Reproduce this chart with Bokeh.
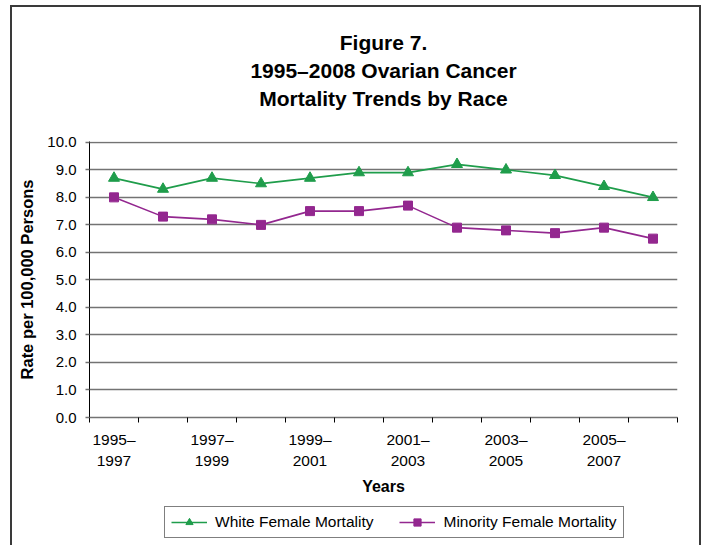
from bokeh.plotting import figure
from bokeh.layouts import column
from bokeh.models import (Range1d, FixedTicker, Legend, LegendItem, Title,
                          NumeralTickFormatter)
from bokeh.embed import file_html
from bokeh.resources import INLINE

# ---- data ----
periods = ["1995–1997", "1996–1998", "1997–1999", "1998–2000", "1999–2001", "2000–2002",
           "2001–2003", "2002–2004", "2003–2005", "2004–2006", "2005–2007", "2006–2008"]
white = [8.7, 8.3, 8.7, 8.5, 8.7, 8.9, 8.9, 9.2, 9.0, 8.8, 8.4, 8.0]
minority = [8.0, 7.3, 7.2, 7.0, 7.5, 7.5, 7.7, 6.9, 6.8, 6.7, 6.9, 6.5]
y_ticks = [0, 1, 2, 3, 4, 5, 6, 7, 8, 9, 10]
series_names = ["White Female Mortality", "Minority Female Mortality"]
title_lines = ["Figure 7.", "1995–2008 Ovarian Cancer", "Mortality Trends by Race"]
x_title = "Years"
y_title = "Rate per 100,000 Persons"

GREEN = "#1f9d4b"
PURPLE = "#93278f"
GRID = "#737373"
FONT = "Liberation Sans"

xs = list(range(len(periods)))

p = figure(width=687, height=492, output_backend="svg", toolbar_location=None,
           title=None,
           x_range=Range1d(-0.5, len(periods) - 0.5), y_range=Range1d(0, 10.03),
           min_border_left=77, min_border_right=22, min_border_top=134, min_border_bottom=82,
           background_fill_color="white", border_fill_color="white")
p.outline_line_color = None

# spacer between plot and title block, then titles (first added sits closest)
p.add_layout(Title(text=" ", text_font_size="1px", standoff=27), "above")
for line in reversed(title_lines):
    p.add_layout(Title(text=line, align="center", text_font=FONT, text_font_size="21px",
                       text_font_style="bold", text_color="black", standoff=3), "above")

# grid
p.xgrid.visible = False
p.ygrid.ticker = FixedTicker(ticks=y_ticks)
p.ygrid.grid_line_color = GRID
p.ygrid.grid_line_width = 1.6

# y axis
p.yaxis.ticker = FixedTicker(ticks=y_ticks)
p.yaxis.formatter = NumeralTickFormatter(format="0.0")
p.yaxis.axis_line_color = "black"
p.yaxis.axis_line_width = 1
p.yaxis.major_tick_line_color = GRID
p.yaxis.major_tick_line_width = 1.6
p.yaxis.major_tick_out = 4
p.yaxis.major_tick_in = 0
p.yaxis.minor_tick_line_color = None
p.yaxis.major_label_text_font = FONT
p.yaxis.major_label_text_font_size = "15px"
p.yaxis.major_label_text_color = "black"
p.yaxis.major_label_standoff = 9
p.yaxis.axis_label = y_title
p.yaxis.axis_label_text_font = FONT
p.yaxis.axis_label_text_font_size = "16.5px"
p.yaxis.axis_label_text_font_style = "bold"
p.yaxis.axis_label_text_color = "black"
p.yaxis.axis_label_standoff = 8

# x axis
major = [i for i in xs if i % 2 == 0]
minor = [i - 0.5 for i in range(len(periods) + 1)]
p.xaxis.ticker = FixedTicker(ticks=major, minor_ticks=minor)
p.xaxis.major_label_overrides = {i: periods[i].replace("–", "–\n") for i in major}
p.xaxis.axis_line_color = GRID
p.xaxis.axis_line_width = 1.6
p.xaxis.major_tick_line_color = None
p.xaxis.major_tick_out = 0
p.xaxis.major_tick_in = 0
p.xaxis.minor_tick_line_color = "black"
p.xaxis.minor_tick_line_width = 1
p.xaxis.minor_tick_out = 5
p.xaxis.minor_tick_in = 0
p.xaxis.major_label_text_font = FONT
p.xaxis.major_label_text_font_size = "15.5px"
p.xaxis.major_label_text_color = "black"
p.xaxis.major_label_text_line_height = 1.28
p.xaxis.major_label_standoff = 8
p.xaxis.axis_label = x_title
p.xaxis.axis_label_text_font = FONT
p.xaxis.axis_label_text_font_size = "16px"
p.xaxis.axis_label_text_font_style = "bold"
p.xaxis.axis_label_text_color = "black"
p.xaxis.axis_label_standoff = 6

# series
line_style = [dict(line_color=GREEN, line_width=1.6), dict(line_color=PURPLE, line_width=1.6)]
mark_style = [dict(marker="triangle", size=11, fill_color=GREEN, line_color=GREEN),
              dict(marker="square", size=9, fill_color=PURPLE, line_color=PURPLE)]
for ys, ls, ms in zip([white, minority], line_style, mark_style):
    p.line(xs, ys, **ls)
    p.scatter(xs, ys, **ms)

# legend strip: a second canvas under the chart; its ranges keep the series out of view,
# so only the legend keys (same glyph styles) are drawn
q = figure(width=687, height=46, output_backend="svg", toolbar_location=None, title=None,
           x_axis_type=None, y_axis_type=None, x_range=Range1d(0, 1), y_range=Range1d(-2, -1),
           min_border=0, background_fill_color="white", border_fill_color="white")
q.outline_line_color = None
q.xgrid.visible = False
q.ygrid.visible = False
items = []
for name, ys, ls, ms in zip(series_names, [white, minority], line_style, mark_style):
    rl = q.line(xs, ys, **ls)
    rs = q.scatter(xs, ys, **ms)
    items.append(LegendItem(label=name, renderers=[rl, rs]))
legend = Legend(items=items, orientation="horizontal", location=(75, 7), margin=0,
                border_line_color="black", border_line_width=1,
                padding=6, spacing=26, glyph_width=36, glyph_height=18,
                label_standoff=8, label_text_font=FONT, label_text_font_size="15.5px",
                label_text_color="black", background_fill_alpha=1)
q.add_layout(legend)

layout = column(p, q, spacing=0,
                styles={"margin-left": "10px", "margin-top": "5px",
                        "border-left": "2px solid #3a3a3a", "border-top": "2px solid #3a3a3a",
                        "border-right": "2px solid #3a3a3a"})

open("out.html", "w").write(file_html(layout, INLINE))
